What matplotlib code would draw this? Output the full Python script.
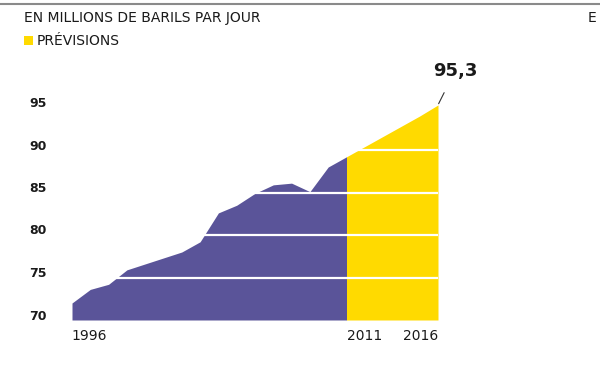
import matplotlib.pyplot as plt

# donnees (millions de barils par jour)
annees_hist = [1996, 1997, 1998, 1999, 2000, 2001, 2002, 2003, 2004, 2005,
               2006, 2007, 2008, 2009, 2010, 2011]
conso_hist = [72.0, 73.6, 74.2, 75.9, 76.6, 77.3, 78.0, 79.2, 82.6, 83.5,
              84.9, 85.9, 86.1, 85.1, 88.0, 89.2]
annees_prev = [2011, 2012, 2013, 2014, 2015, 2016]
conso_prev = [89.2, 90.4, 91.6, 92.8, 94.0, 95.3]
graduations = [70, 75, 80, 85, 90, 95]
etiquettes_x = [1996, 2011, 2016]

violet = "#5a5499"
jaune = "#ffda00"

fig = plt.figure(figsize=(6, 3.72), dpi=100)
ax = fig.add_axes([72 / 600, 1 - 320 / 372, 366 / 600, 255 / 372])

ax.fill_between(annees_hist, 70, conso_hist, color=violet, lw=0)
ax.fill_between(annees_prev, 70, conso_prev, color=jaune, lw=0)
for g in graduations[1:-1]:
    ax.plot([1996, 2016], [g, g], color="white", lw=1.6)

ax.set_xlim(1996, 2016)
ax.set_ylim(70, 100)
ax.axis("off")

# graduations y
for g in graduations:
    ax.annotate(str(g), xy=(0, g), xycoords=("figure fraction", "data"),
                xytext=(47, 4), textcoords="offset pixels",
                ha="right", va="center", fontsize=9, fontweight="bold",
                color="#1a1a1a")

# annees
alignement = {1996: "left", 2011: "left", 2016: "right"}
for a in etiquettes_x:
    ax.annotate(str(a), xy=(a, 70), xytext=(-1 if a == 1996 else 0, -16),
                textcoords="offset pixels", ha=alignement[a], va="center",
                fontsize=10, color="#1a1a1a")

# valeur finale
ax.annotate("95,3", xy=(annees_prev[-1], conso_prev[-1]), xytext=(17, 34),
            textcoords="offset pixels", ha="center", va="center",
            fontsize=13, fontweight="bold", color="#1a1a1a",
            arrowprops=dict(arrowstyle="-", color="#333333", lw=0.8,
                            shrinkA=8, shrinkB=1))

# en-tete
fig.add_artist(plt.Line2D([0, 1], [1 - 4 / 372, 1 - 4 / 372], color="#8a8a8a", lw=1.5))
fig.text(24 / 600, 1 - 18 / 372, "EN MILLIONS DE BARILS PAR JOUR", fontsize=10,
         va="center", ha="left", color="#1a1a1a")
fig.text(588 / 600, 1 - 18 / 372, "E", fontsize=10, va="center", ha="left",
         color="#1a1a1a")
fig.add_artist(plt.Rectangle((24 / 600, 1 - 45 / 372), 9 / 600, 9 / 372,
                             color=jaune, lw=0))
fig.text(37 / 600, 1 - 41 / 372, "PRÉVISIONS", fontsize=10, va="center",
         ha="left", color="#1a1a1a")

fig.savefig("out.png", dpi=100)
